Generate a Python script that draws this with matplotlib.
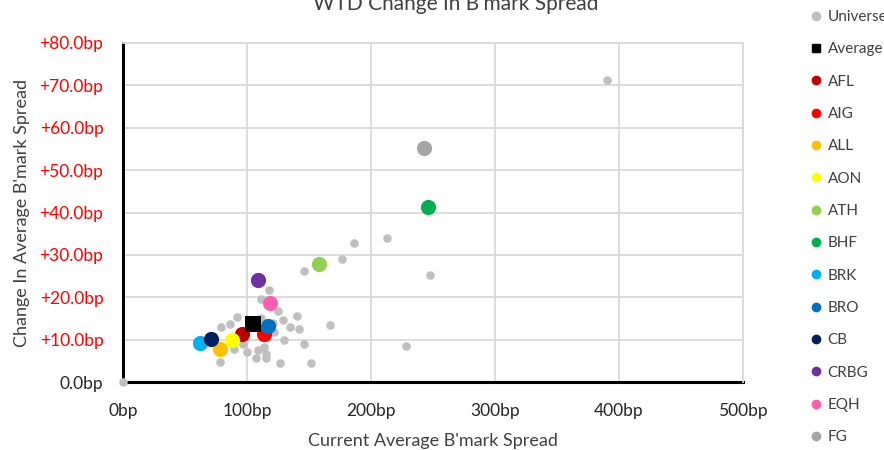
import matplotlib
matplotlib.use("Agg")
import matplotlib.pyplot as plt
from matplotlib.lines import Line2D
from matplotlib.ticker import FuncFormatter

plt.rcParams["font.family"] = ["Lato", "DejaVu Sans"]

# universe of names: (current avg spread bp, WTD change bp)
UNIVERSE_X = [0, 390, 213, 186, 177, 146, 248, 118, 111, 125, 140, 92, 129, 167,
              135, 142, 79, 86, 122, 228, 146, 130, 97, 90, 100, 109, 114, 115,
              107, 115, 127, 152, 78, 111, 121, 102, 99, 115]
UNIVERSE_Y = [0.0, 71.2, 34.1, 32.9, 29.1, 26.3, 25.2, 21.6, 19.5, 16.7, 15.6, 15.4, 14.6, 13.5,
              13.0, 12.6, 12.9, 13.6, 11.7, 8.6, 9.0, 10.0, 8.9, 7.7, 7.1, 7.5, 8.2, 6.6,
              5.6, 5.6, 4.6, 4.6, 4.8, 15.0, 14.0, 14.3, 12.0, 12.4]

AVG_X = [105]
AVG_Y = [13.6]

NAMES = ["AFL", "AIG", "ALL", "AON", "ATH", "BHF", "BRK", "BRO", "CB", "CRBG", "EQH", "FG"]
NAME_X = [96, 114, 78, 88, 158, 246, 62, 117, 71, 109, 119, 243]
NAME_Y = [11.3, 11.3, 7.9, 10.0, 27.8, 41.3, 9.1, 13.2, 10.1, 24.1, 18.6, 55.2]
NAME_COLORS = ["#C00000", "#FF0000", "#FFC000", "#FFFF00", "#92D050", "#00B050",
               "#00B0F0", "#0070C0", "#002060", "#7030A0", "#FF5FB0", "#A6A6A6"]

X_TICKS = [0, 100, 200, 300, 400, 500]
Y_TICKS = [0, 10, 20, 30, 40, 50, 60, 70, 80]

fig = plt.figure(figsize=(8.84, 4.5), dpi=100)
ax = fig.add_axes([0.139, 0.151, 0.7015, 0.7535])

ax.scatter(UNIVERSE_X, UNIVERSE_Y, s=38, color="#BFBFBF", linewidths=0, zorder=3,
           clip_on=False)
for x, y, c in zip(NAME_X, NAME_Y, NAME_COLORS):
    ax.scatter([x], [y], s=120, color=c, linewidths=0, zorder=4)
ax.scatter(AVG_X, AVG_Y, s=120, marker="s", color="black", linewidths=0, zorder=4)

ax.set_xlim(0, 500)
ax.set_ylim(0, 80)
ax.set_xticks(X_TICKS)
ax.set_yticks(Y_TICKS)
ax.xaxis.set_major_formatter(FuncFormatter(lambda v, p: f"{v:.0f}bp"))
ax.yaxis.set_major_formatter(FuncFormatter(
    lambda v, p: f"+{v:.1f}bp" if v > 0 else f"{v:.1f}bp"))
ax.tick_params(length=0, labelsize=12.5, colors="#262626")
ax.tick_params(axis="x", pad=15)
ax.tick_params(axis="y", pad=14)
for lab, v in zip(ax.get_yticklabels(), Y_TICKS):
    lab.set_color("#FF0000" if v > 0 else "#262626")

ax.grid(True, color="#D9D9D9", linewidth=1.3, zorder=0)
ax.set_axisbelow(True)
for side in ["top", "right"]:
    ax.spines[side].set_color("#D9D9D9")
    ax.spines[side].set_linewidth(1.3)
for side in ["left", "bottom"]:
    ax.spines[side].set_color("black")
    ax.spines[side].set_linewidth(2.2)
    ax.spines[side].set_zorder(2)

ax.set_xlabel("Current Average B'mark Spread", fontsize=13, color="#404040", labelpad=10)
ax.set_ylabel("Change In Average B'mark Spread", fontsize=13, color="#404040", labelpad=7)

fig.text(456 / 884, 1 - 10 / 450, "WTD Change In B'mark Spread", fontsize=15,
         color="#404040", ha="center", va="baseline")

handles = [Line2D([], [], marker="o", linestyle="", color="#BFBFBF", markersize=6)]
handles += [Line2D([], [], marker="s", linestyle="", color="black", markersize=6)]
handles += [Line2D([], [], marker="o", linestyle="", color=c, markersize=6)
            for c in NAME_COLORS]
labels = ["Universe", "Average"] + NAMES
fig.legend(handles, labels, loc="upper left", bbox_to_anchor=(804 / 884, 1 - 4 / 450),
           frameon=False, fontsize=11, labelspacing=1.2, handlelength=0.8,
           handletextpad=0.35, borderaxespad=0, labelcolor="#404040")

fig.savefig("out.png", dpi=100, facecolor="white")
